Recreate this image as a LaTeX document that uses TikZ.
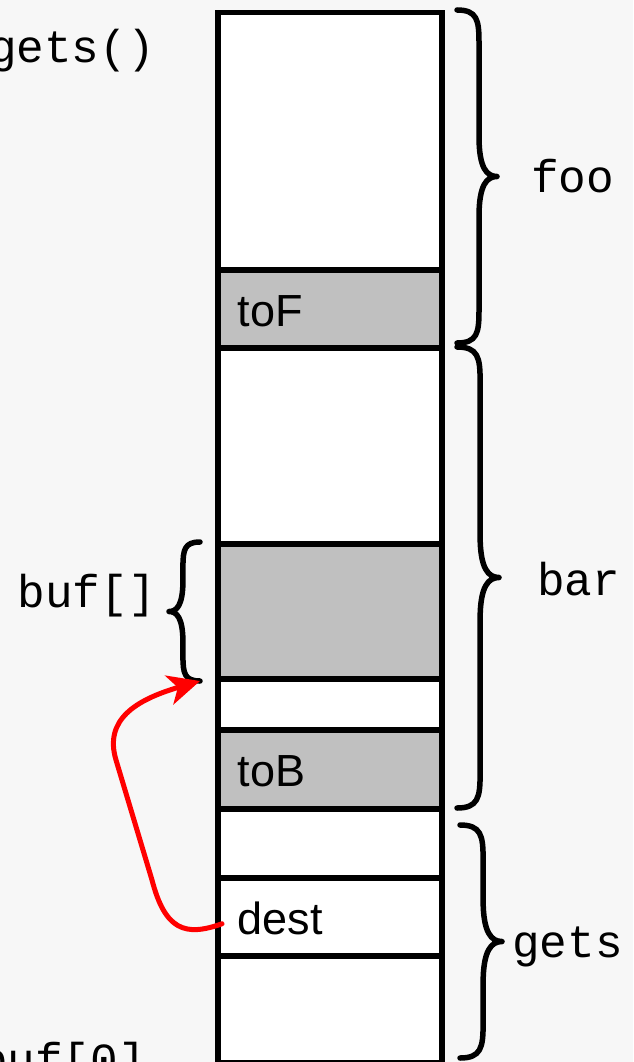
\documentclass[tikz,border=0pt]{standalone}
\usepackage{fontspec}
\setmainfont{Liberation Sans}
\newfontfamily\monofont{Liberation Mono}
\usetikzlibrary{arrows.meta}
\definecolor{bg}{HTML}{F7F7F7}
\definecolor{cellgray}{HTML}{C0C0C0}
% right-opening (a>0) or left-opening (a<0) curly brace: x0, ytop, ybottom, amplitude
\newcommand{\curlybrace}[4]{%
  \draw[bracestyle] (#1,#2) .. controls ({#1+0.5*#4},#2) and ({#1+0.55*#4},{#2+0.25*abs(#4)}) ..
    ({#1+0.55*#4},{#2+0.8*abs(#4)}) -- ({#1+0.55*#4},{(#2+#3)/2-1.0*abs(#4)})
    .. controls ({#1+0.55*#4},{(#2+#3)/2-0.2*abs(#4)}) and ({#1+0.75*#4},{(#2+#3)/2}) .. ({#1+#4},{(#2+#3)/2})
    .. controls ({#1+0.75*#4},{(#2+#3)/2}) and ({#1+0.55*#4},{(#2+#3)/2+0.2*abs(#4)}) ..
    ({#1+0.55*#4},{(#2+#3)/2+1.0*abs(#4)}) -- ({#1+0.55*#4},{#3-0.8*abs(#4)})
    .. controls ({#1+0.55*#4},{#3-0.25*abs(#4)}) and ({#1+0.5*#4},#3) .. (#1,#3);}
\begin{document}
\begin{tikzpicture}[x=1pt,y=-1pt,
  cell/.style={draw=black, line width=5.5pt, fill=white, anchor=north west,
    minimum width=224pt, inner xsep=20pt, inner ysep=0pt, text width=184pt,
    text height=35pt, align=left, font=\fontsize{45}{50}\selectfont},
  grey/.style={fill=cellgray},
  lbl/.style={font=\monofont\fontsize{46}{50}\selectfont, inner sep=0pt},
  bracestyle/.style={line width=5.5pt, line cap=round, line join=round},
]
\clip (0,0) rectangle (633,1062);
\fill[bg] (0,0) rectangle (633,1062);

% stack cells
\node[cell, minimum height=257pt] (c1) at (215,10) {};
\node[cell, grey, minimum height=78pt] (toF) at (215,267) {toF};
\node[cell, minimum height=196pt] (c3) at (215,345) {};
\node[cell, grey, minimum height=135pt] (buf) at (215,541) {};
\node[cell, minimum height=51pt] (c5) at (215,676) {};
\node[cell, grey, minimum height=79pt] (toB) at (215,727) {toB};
\node[cell, minimum height=69pt] (c7) at (215,806) {};
\node[cell, minimum height=78pt] (dest) at (215,875) {dest};
\node[cell, minimum height=107pt] (c9) at (215,953) {};

% braces
\curlybrace{457}{10}{343}{40}
\curlybrace{457}{347}{808}{42}
\curlybrace{460}{825}{1058}{42}
\curlybrace{200}{542}{681}{-31}

% labels
\node[lbl, anchor=base west] (foo) at (531,192) {foo};
\node[lbl, anchor=base west] (bar) at (537,595) {bar};
\node[lbl, anchor=base west] (gets) at (512,957) {gets};
\node[lbl, anchor=base east] (bufl) at (156,607) {buf[]};
\node[lbl, anchor=base east] (getsc) at (155,63) {gets()};
\node[lbl, anchor=base east] (buf0) at (146,1075) {buf[0]};

% red pointer
\coordinate (bufend) at (200,681);
\draw[red, line width=5pt, line cap=round, -{Stealth[length=32pt,width=30pt,inset=9pt]}]
  ([shift={(7,7)}]dest.west) .. controls (185,937) and (165,930) .. (152,880)
  -- (116,760) .. controls (104,720) and (135,700) .. (bufend);
\end{tikzpicture}
\end{document}
